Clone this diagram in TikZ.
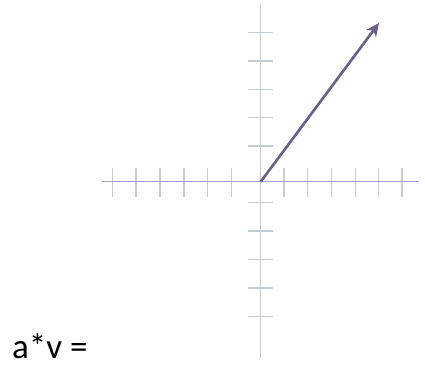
\documentclass[tikz,border=0pt]{standalone}
\usepackage{fontspec}
\setmainfont{Carlito}
\usetikzlibrary{arrows.meta}
\definecolor{haxis}{HTML}{9EA4D4}
\definecolor{vaxis}{HTML}{C4CAD8}
\definecolor{tickc}{HTML}{C6CDD2}
\definecolor{vec}{HTML}{6B5E8C}
\tikzset{
  axisline/.style={line width=1.4pt},
  tickline/.style={tickc,line width=1.5pt},
  vecline/.style={vec,line width=2.6pt,-{Stealth[length=13pt,width=12pt,inset=3.5pt]}},
  lbl/.style={font=\fontsize{35}{40}\selectfont,inner sep=0pt,anchor=base west}
}
\begin{document}
\begin{tikzpicture}[x=1pt,y=-1pt]
\useasboundingbox (0,0) rectangle (425,367);
% ticks on horizontal axis
\foreach \x in {112.7,136,160,184,207.3,231.3,284,307.3,331.3,355.3,378.7,402}
  \draw[tickline] (\x,168) -- (\x,197);
% ticks on vertical axis
\foreach \y in {32.7,61,89.3,117.7,146,202.7,231,259.7,288,316.3}
  \draw[tickline] (248.3,\y) -- (272.7,\y);
\coordinate (vt) at (260.7,4);
\coordinate (vb) at (260.7,358);
\coordinate (hl) at (102,181.7);
\coordinate (hr) at (419,181.7);
\draw[axisline,vaxis] (vt) -- (vb);
\draw[axisline,haxis] (hl) -- (hr);
\coordinate (o) at (260.7,181.7);
\coordinate (tip) at (379,23);
\draw[vecline] (o) -- (tip);
\node[lbl] (label) at (12,358) {a*v =};
\end{tikzpicture}
\end{document}
